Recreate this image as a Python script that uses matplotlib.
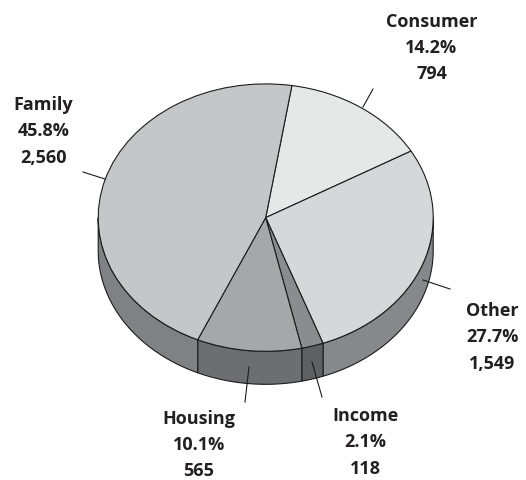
import numpy as np
import matplotlib
matplotlib.use('Agg')
import matplotlib.pyplot as plt

# clockwise from the top
names = ['Consumer', 'Other', 'Income', 'Housing', 'Family']
shares = [14.2, 27.7, 2.1, 10.1, 45.8]
counts = ['794', '1,549', '118', '565', '2,560']
top_colors = ['#e6e8e7', '#d6d7d9', '#8a8c8f', '#a6a7a9', '#c5c6c8']
side_colors = ['#a0a1a3', '#86888b', '#5f6064', '#6d6e71', '#808184']

# ellipse geometry in pixels
W, H = 526, 481
cx, cy, rx, ry = 265.7, 218.6, 167.5, 133.7
depth = 33 / ry
start = 81.0

# label centre x, first baseline y
label_pos = {'Consumer': (431.5, 26.7), 'Other': (492, 316), 'Income': (365, 421),
             'Housing': (199, 423.5), 'Family': (43.5, 110)}
leaders = {'Consumer': ((363, 108), (373, 90)), 'Other': ((423, 281), (450, 290)),
           'Income': ((312, 363), (322, 398)), 'Housing': ((249, 368), (245, 403)),
           'Family': ((83, 173), (105, 180))}


def px(x, y):
    return (x - cx) / rx, (cy - y) / ry


fig = plt.figure(figsize=(W / 100, H / 100), dpi=100)
ax = fig.add_axes([0, 0, 1, 1])
ax.pie(shares, colors=top_colors, startangle=start, counterclock=False, radius=1,
       wedgeprops={'edgecolor': '#1c1c1c', 'linewidth': 0.8, 'zorder': 3})
ax.set_aspect('auto')
ax.set_xlim(px(0, 0)[0], px(W, 0)[0])
ax.set_ylim(px(0, H)[1], px(0, 0)[1])
ax.axis('off')

# side wall, only the part of each slice on the front half
ends = start - np.cumsum(shares) / sum(shares) * 360
begins = np.r_[start, ends[:-1]]
for a0, a1, c in zip(begins, ends, side_colors):
    hi, lo = min(a0, 0), max(a1, -180)
    if hi <= lo:
        continue
    t = np.radians(np.linspace(hi, lo, 80))
    xs = np.r_[np.cos(t), np.cos(t[::-1])]
    ys = np.r_[np.sin(t), np.sin(t[::-1]) - depth]
    ax.fill(xs, ys, facecolor=c, edgecolor='#1c1c1c', linewidth=0.8, zorder=1)

for n, s, v in zip(names, shares, counts):
    x, y = label_pos[n]
    for i, txt in enumerate([n, f'{s}%', v]):
        tx, ty = px(x, y + i * 26.3)
        ax.text(tx, ty, txt, ha='center', va='baseline', fontsize=13, fontweight='bold',
                family='Open Sans', color='#231f20')
    p0, p1 = leaders[n]
    ax.plot(*zip(px(*p0), px(*p1)), color='#1c1c1c', lw=0.8, zorder=4)

fig.savefig('out.png', dpi=100)
